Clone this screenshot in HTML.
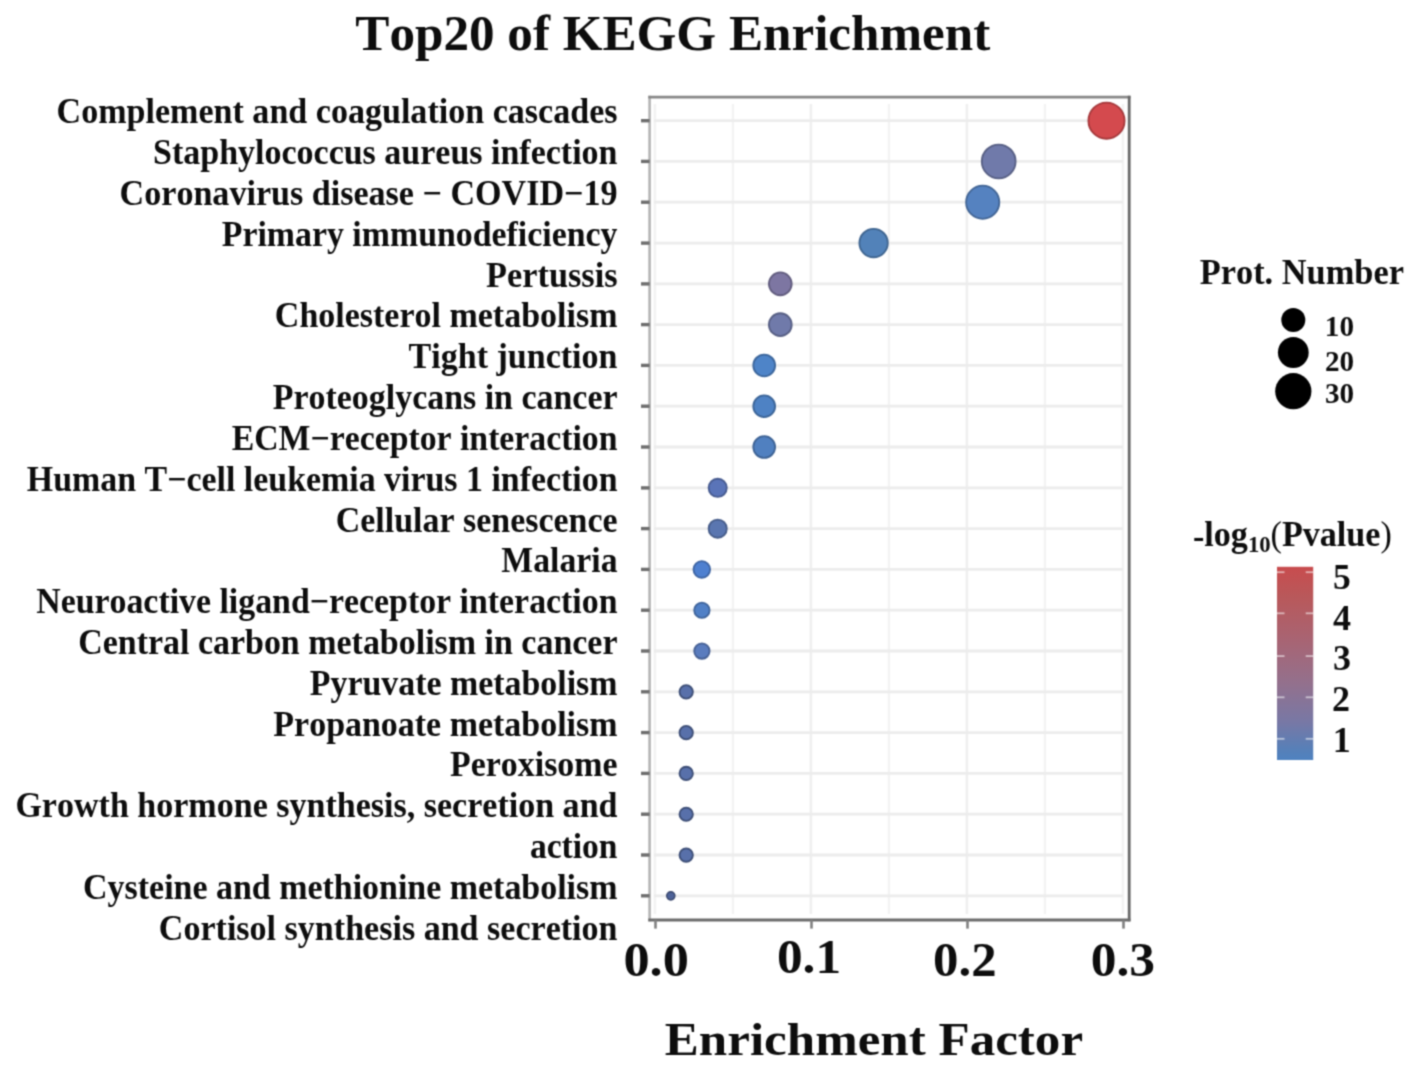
<!DOCTYPE html><html><head><meta charset="utf-8"><style>html,body{margin:0;padding:0;background:#fff;overflow:hidden;}svg{display:block;} text{font-kerning:none;}</style></head><body>
<svg width="1417" height="1073" viewBox="0 0 1417 1073">
<rect width="1417" height="1073" fill="#fff"/>
<defs><filter id="soft" x="0" y="0" width="1417" height="1073" filterUnits="userSpaceOnUse" color-interpolation-filters="sRGB"><feConvolveMatrix order="3" kernelMatrix="0.04387 0.12171 0.04387 0.12171 0.33767 0.12171 0.04387 0.12171 0.04387" edgeMode="duplicate"/></filter></defs>
<g filter="url(#soft)">
<rect width="1417" height="1073" fill="#fff"/>
<text transform="translate(617.50,123.20) scale(0.9462,1)" font-family="'Liberation Serif', serif" font-weight="bold" font-size="36" fill="#0d0d0d" text-anchor="end">Complement and coagulation cascades</text>
<text transform="translate(617.50,164.03) scale(0.9443,1)" font-family="'Liberation Serif', serif" font-weight="bold" font-size="36" fill="#0d0d0d" text-anchor="end">Staphylococcus aureus infection</text>
<text transform="translate(617.50,204.86) scale(0.9466,1)" font-family="'Liberation Serif', serif" font-weight="bold" font-size="36" fill="#0d0d0d" text-anchor="end">Coronavirus disease − COVID−19</text>
<text transform="translate(617.50,245.69) scale(0.9405,1)" font-family="'Liberation Serif', serif" font-weight="bold" font-size="36" fill="#0d0d0d" text-anchor="end">Primary immunodeficiency</text>
<text transform="translate(617.50,286.52) scale(0.9526,1)" font-family="'Liberation Serif', serif" font-weight="bold" font-size="36" fill="#0d0d0d" text-anchor="end">Pertussis</text>
<text transform="translate(617.50,327.35) scale(0.9446,1)" font-family="'Liberation Serif', serif" font-weight="bold" font-size="36" fill="#0d0d0d" text-anchor="end">Cholesterol metabolism</text>
<text transform="translate(617.50,368.18) scale(0.9455,1)" font-family="'Liberation Serif', serif" font-weight="bold" font-size="36" fill="#0d0d0d" text-anchor="end">Tight junction</text>
<text transform="translate(617.50,409.01) scale(0.9422,1)" font-family="'Liberation Serif', serif" font-weight="bold" font-size="36" fill="#0d0d0d" text-anchor="end">Proteoglycans in cancer</text>
<text transform="translate(617.50,449.84) scale(0.9384,1)" font-family="'Liberation Serif', serif" font-weight="bold" font-size="36" fill="#0d0d0d" text-anchor="end">ECM−receptor interaction</text>
<text transform="translate(617.50,490.67) scale(0.9415,1)" font-family="'Liberation Serif', serif" font-weight="bold" font-size="36" fill="#0d0d0d" text-anchor="end">Human T−cell leukemia virus 1 infection</text>
<text transform="translate(617.50,531.50) scale(0.9428,1)" font-family="'Liberation Serif', serif" font-weight="bold" font-size="36" fill="#0d0d0d" text-anchor="end">Cellular senescence</text>
<text transform="translate(617.50,572.33) scale(0.9374,1)" font-family="'Liberation Serif', serif" font-weight="bold" font-size="36" fill="#0d0d0d" text-anchor="end">Malaria</text>
<text transform="translate(617.50,613.16) scale(0.9400,1)" font-family="'Liberation Serif', serif" font-weight="bold" font-size="36" fill="#0d0d0d" text-anchor="end">Neuroactive ligand−receptor interaction</text>
<text transform="translate(617.50,653.99) scale(0.9433,1)" font-family="'Liberation Serif', serif" font-weight="bold" font-size="36" fill="#0d0d0d" text-anchor="end">Central carbon metabolism in cancer</text>
<text transform="translate(617.50,694.82) scale(0.9414,1)" font-family="'Liberation Serif', serif" font-weight="bold" font-size="36" fill="#0d0d0d" text-anchor="end">Pyruvate metabolism</text>
<text transform="translate(617.50,735.65) scale(0.9431,1)" font-family="'Liberation Serif', serif" font-weight="bold" font-size="36" fill="#0d0d0d" text-anchor="end">Propanoate metabolism</text>
<text transform="translate(617.50,776.48) scale(0.9412,1)" font-family="'Liberation Serif', serif" font-weight="bold" font-size="36" fill="#0d0d0d" text-anchor="end">Peroxisome</text>
<text transform="translate(617.50,817.31) scale(0.9458,1)" font-family="'Liberation Serif', serif" font-weight="bold" font-size="36" fill="#0d0d0d" text-anchor="end">Growth hormone synthesis, secretion and</text>
<text transform="translate(617.50,858.14) scale(0.9323,1)" font-family="'Liberation Serif', serif" font-weight="bold" font-size="36" fill="#0d0d0d" text-anchor="end">action</text>
<text transform="translate(617.50,898.97) scale(0.9430,1)" font-family="'Liberation Serif', serif" font-weight="bold" font-size="36" fill="#0d0d0d" text-anchor="end">Cysteine and methionine metabolism</text>
<text transform="translate(617.50,939.80) scale(0.9460,1)" font-family="'Liberation Serif', serif" font-weight="bold" font-size="36" fill="#0d0d0d" text-anchor="end">Cortisol synthesis and secretion</text>
<text transform="translate(355.30,49.80) scale(0.9991,1)" font-family="'Liberation Serif', serif" font-weight="bold" font-size="51.2" fill="#0d0d0d" text-anchor="start">Top20 of KEGG Enrichment</text>
<text transform="translate(623.42,975.80) scale(1.0911,1)" font-family="'Liberation Serif', serif" font-weight="bold" font-size="48" fill="#0d0d0d" text-anchor="start">0.0</text>
<text transform="translate(776.96,973.20) scale(1.0696,1)" font-family="'Liberation Serif', serif" font-weight="bold" font-size="48" fill="#0d0d0d" text-anchor="start">0.1</text>
<text transform="translate(933.08,975.90) scale(1.0589,1)" font-family="'Liberation Serif', serif" font-weight="bold" font-size="48" fill="#0d0d0d" text-anchor="start">0.2</text>
<text transform="translate(1090.65,975.60) scale(1.0732,1)" font-family="'Liberation Serif', serif" font-weight="bold" font-size="48" fill="#0d0d0d" text-anchor="start">0.3</text>
<text transform="translate(664.82,1054.70) scale(1.0752,1)" font-family="'Liberation Serif', serif" font-weight="bold" font-size="47.5" fill="#0d0d0d" text-anchor="start">Enrichment Factor</text>
<text transform="translate(1199.75,284.00) scale(0.9547,1)" font-family="'Liberation Serif', serif" font-weight="bold" font-size="36" fill="#0d0d0d" text-anchor="start">Prot. Number</text>
<text transform="translate(1324.85,335.90) scale(1.0240,1)" font-family="'Liberation Serif', serif" font-weight="bold" font-size="28.5" fill="#0d0d0d" text-anchor="start">10</text>
<text transform="translate(1324.88,370.70) scale(1.0231,1)" font-family="'Liberation Serif', serif" font-weight="bold" font-size="28.5" fill="#0d0d0d" text-anchor="start">20</text>
<text transform="translate(1324.88,403.20) scale(1.0231,1)" font-family="'Liberation Serif', serif" font-weight="bold" font-size="28.5" fill="#0d0d0d" text-anchor="start">30</text>
<text transform="translate(1333.01,589.40) scale(0.9875,1)" font-family="'Liberation Serif', serif" font-weight="bold" font-size="36" fill="#0d0d0d" text-anchor="start">5</text>
<text transform="translate(1333.00,629.80) scale(1.0000,1)" font-family="'Liberation Serif', serif" font-weight="bold" font-size="36" fill="#0d0d0d" text-anchor="start">4</text>
<text transform="translate(1333.00,670.30) scale(1.0000,1)" font-family="'Liberation Serif', serif" font-weight="bold" font-size="36" fill="#0d0d0d" text-anchor="start">3</text>
<text transform="translate(1332.00,710.70) scale(1.0000,1)" font-family="'Liberation Serif', serif" font-weight="bold" font-size="36" fill="#0d0d0d" text-anchor="start">2</text>
<text transform="translate(1332.80,751.60) scale(1.0000,1)" font-family="'Liberation Serif', serif" font-weight="bold" font-size="36" fill="#0d0d0d" text-anchor="start">1</text>
<line x1="732.9" y1="104" x2="732.9" y2="914" stroke="#f3f3f3" stroke-width="2.4"/>
<line x1="888.9" y1="104" x2="888.9" y2="914" stroke="#f3f3f3" stroke-width="2.4"/>
<line x1="1044.9" y1="104" x2="1044.9" y2="914" stroke="#f3f3f3" stroke-width="2.4"/>
<line x1="654.9" y1="104" x2="654.9" y2="914" stroke="#f3f3f3" stroke-width="2.6"/>
<line x1="810.9" y1="104" x2="810.9" y2="914" stroke="#efefef" stroke-width="2.6"/>
<line x1="966.9" y1="104" x2="966.9" y2="914" stroke="#efefef" stroke-width="2.6"/>
<line x1="1122.9" y1="104" x2="1122.9" y2="914" stroke="#f3f3f3" stroke-width="2.6"/>
<line x1="654" y1="120.7" x2="1123" y2="120.7" stroke="#ececec" stroke-width="2.8"/>
<line x1="654" y1="161.4" x2="1123" y2="161.4" stroke="#ececec" stroke-width="2.8"/>
<line x1="654" y1="202.2" x2="1123" y2="202.2" stroke="#ececec" stroke-width="2.8"/>
<line x1="654" y1="243.1" x2="1123" y2="243.1" stroke="#ececec" stroke-width="2.8"/>
<line x1="654" y1="283.9" x2="1123" y2="283.9" stroke="#ececec" stroke-width="2.8"/>
<line x1="654" y1="324.6" x2="1123" y2="324.6" stroke="#ececec" stroke-width="2.8"/>
<line x1="654" y1="365.4" x2="1123" y2="365.4" stroke="#ececec" stroke-width="2.8"/>
<line x1="654" y1="406.2" x2="1123" y2="406.2" stroke="#ececec" stroke-width="2.8"/>
<line x1="654" y1="447.0" x2="1123" y2="447.0" stroke="#ececec" stroke-width="2.8"/>
<line x1="654" y1="487.9" x2="1123" y2="487.9" stroke="#ececec" stroke-width="2.8"/>
<line x1="654" y1="528.6" x2="1123" y2="528.6" stroke="#ececec" stroke-width="2.8"/>
<line x1="654" y1="569.4" x2="1123" y2="569.4" stroke="#ececec" stroke-width="2.8"/>
<line x1="654" y1="610.2" x2="1123" y2="610.2" stroke="#ececec" stroke-width="2.8"/>
<line x1="654" y1="651.0" x2="1123" y2="651.0" stroke="#ececec" stroke-width="2.8"/>
<line x1="654" y1="691.8" x2="1123" y2="691.8" stroke="#ececec" stroke-width="2.8"/>
<line x1="654" y1="732.6" x2="1123" y2="732.6" stroke="#ececec" stroke-width="2.8"/>
<line x1="654" y1="773.4" x2="1123" y2="773.4" stroke="#ececec" stroke-width="2.8"/>
<line x1="654" y1="814.2" x2="1123" y2="814.2" stroke="#ececec" stroke-width="2.8"/>
<line x1="654" y1="855.0" x2="1123" y2="855.0" stroke="#ececec" stroke-width="2.8"/>
<line x1="654" y1="895.8" x2="1123" y2="895.8" stroke="#ececec" stroke-width="2.8"/>
<circle cx="1106.5" cy="120.65" r="18.10" fill="#d44a4e" stroke="#a5393c" stroke-width="1.8"/>
<circle cx="998.7" cy="161.45" r="16.90" fill="#707aaa" stroke="#575f84" stroke-width="1.8"/>
<circle cx="982.7" cy="202.25" r="16.60" fill="#5582c0" stroke="#426595" stroke-width="1.8"/>
<circle cx="873.6" cy="243.05" r="14.20" fill="#5282b9" stroke="#3f6590" stroke-width="1.8"/>
<circle cx="780.3" cy="283.85" r="11.40" fill="#7d76a2" stroke="#615c7e" stroke-width="1.8"/>
<circle cx="780.3" cy="324.65" r="11.40" fill="#707aaa" stroke="#575f84" stroke-width="1.8"/>
<circle cx="764.2" cy="365.45" r="10.90" fill="#4e84c8" stroke="#3c669c" stroke-width="1.8"/>
<circle cx="764.2" cy="406.25" r="10.90" fill="#4e82c4" stroke="#3c6598" stroke-width="1.8"/>
<circle cx="764.2" cy="447.04999999999995" r="10.90" fill="#5080c0" stroke="#3e6395" stroke-width="1.8"/>
<circle cx="717.7" cy="487.85" r="9.10" fill="#5a74b8" stroke="#465a8f" stroke-width="1.8"/>
<circle cx="717.7" cy="528.65" r="9.10" fill="#5a76b0" stroke="#465c89" stroke-width="1.8"/>
<circle cx="701.8" cy="569.4499999999999" r="8.30" fill="#4e80d0" stroke="#3c63a2" stroke-width="1.8"/>
<circle cx="701.9" cy="610.25" r="7.70" fill="#5080c6" stroke="#3e639a" stroke-width="1.8"/>
<circle cx="701.9" cy="651.05" r="7.70" fill="#5a7cbe" stroke="#466094" stroke-width="1.8"/>
<circle cx="686.2" cy="691.8499999999999" r="6.70" fill="#5870aa" stroke="#3d4e76" stroke-width="1.8"/>
<circle cx="686.2" cy="732.65" r="6.70" fill="#5870aa" stroke="#3d4e76" stroke-width="1.8"/>
<circle cx="686.2" cy="773.4499999999999" r="6.70" fill="#5870aa" stroke="#3d4e76" stroke-width="1.8"/>
<circle cx="686.2" cy="814.2499999999999" r="6.70" fill="#5870aa" stroke="#3d4e76" stroke-width="1.8"/>
<circle cx="686.2" cy="855.05" r="6.70" fill="#5870aa" stroke="#3d4e76" stroke-width="1.8"/>
<circle cx="670.8" cy="895.8499999999999" r="4.10" fill="#4e6298" stroke="#36446a" stroke-width="1.4"/>
<line x1="649.6" y1="95.8" x2="649.6" y2="921.3" stroke="#b4b4b4" stroke-width="2.6"/>
<line x1="648.3000000000001" y1="97.1" x2="1130.5" y2="97.1" stroke="#878787" stroke-width="2.8"/>
<line x1="1129.2" y1="95.8" x2="1129.2" y2="921.3" stroke="#686868" stroke-width="2.8"/>
<line x1="648.3000000000001" y1="920.0" x2="1130.5" y2="920.0" stroke="#6c6c6c" stroke-width="2.8"/>
<line x1="641" y1="120.7" x2="649.6" y2="120.7" stroke="#6e6e6e" stroke-width="3.4"/>
<line x1="641" y1="161.4" x2="649.6" y2="161.4" stroke="#6e6e6e" stroke-width="3.4"/>
<line x1="641" y1="202.2" x2="649.6" y2="202.2" stroke="#6e6e6e" stroke-width="3.4"/>
<line x1="641" y1="243.1" x2="649.6" y2="243.1" stroke="#6e6e6e" stroke-width="3.4"/>
<line x1="641" y1="283.9" x2="649.6" y2="283.9" stroke="#6e6e6e" stroke-width="3.4"/>
<line x1="641" y1="324.6" x2="649.6" y2="324.6" stroke="#6e6e6e" stroke-width="3.4"/>
<line x1="641" y1="365.4" x2="649.6" y2="365.4" stroke="#6e6e6e" stroke-width="3.4"/>
<line x1="641" y1="406.2" x2="649.6" y2="406.2" stroke="#6e6e6e" stroke-width="3.4"/>
<line x1="641" y1="447.0" x2="649.6" y2="447.0" stroke="#6e6e6e" stroke-width="3.4"/>
<line x1="641" y1="487.9" x2="649.6" y2="487.9" stroke="#6e6e6e" stroke-width="3.4"/>
<line x1="641" y1="528.6" x2="649.6" y2="528.6" stroke="#6e6e6e" stroke-width="3.4"/>
<line x1="641" y1="569.4" x2="649.6" y2="569.4" stroke="#6e6e6e" stroke-width="3.4"/>
<line x1="641" y1="610.2" x2="649.6" y2="610.2" stroke="#6e6e6e" stroke-width="3.4"/>
<line x1="641" y1="651.0" x2="649.6" y2="651.0" stroke="#6e6e6e" stroke-width="3.4"/>
<line x1="641" y1="691.8" x2="649.6" y2="691.8" stroke="#6e6e6e" stroke-width="3.4"/>
<line x1="641" y1="732.6" x2="649.6" y2="732.6" stroke="#6e6e6e" stroke-width="3.4"/>
<line x1="641" y1="773.4" x2="649.6" y2="773.4" stroke="#6e6e6e" stroke-width="3.4"/>
<line x1="641" y1="814.2" x2="649.6" y2="814.2" stroke="#6e6e6e" stroke-width="3.4"/>
<line x1="641" y1="855.0" x2="649.6" y2="855.0" stroke="#6e6e6e" stroke-width="3.4"/>
<line x1="641" y1="895.8" x2="649.6" y2="895.8" stroke="#6e6e6e" stroke-width="3.4"/>
<line x1="655.5" y1="920.0" x2="655.5" y2="928.6" stroke="#808080" stroke-width="2.6"/>
<line x1="811.5" y1="920.0" x2="811.5" y2="928.6" stroke="#808080" stroke-width="2.6"/>
<line x1="967.5" y1="920.0" x2="967.5" y2="928.6" stroke="#808080" stroke-width="2.6"/>
<line x1="1123.5" y1="920.0" x2="1123.5" y2="928.6" stroke="#808080" stroke-width="2.6"/>
<circle cx="1293.3" cy="320.0" r="12.0" fill="#000"/>
<circle cx="1293.3" cy="352.5" r="15.4" fill="#000"/>
<circle cx="1293.3" cy="391.2" r="18.1" fill="#000"/>
<text transform="translate(1192.96,545.9) scale(0.9475,1)" font-family="'Liberation Serif', serif" font-weight="bold" font-size="36" fill="#0d0d0d"><tspan dy="2.4">-</tspan><tspan dy="-2.4">log</tspan><tspan font-size="24" dy="5.7">10</tspan><tspan dy="-5.7" font-weight="normal">(</tspan>Pvalue<tspan font-weight="normal">)</tspan></text>
<defs><linearGradient id="cb" x1="0" y1="1" x2="0" y2="0"><stop offset="0" stop-color="#4f82c0"/><stop offset="0.047" stop-color="#5580b9"/><stop offset="0.197" stop-color="#7878a5"/><stop offset="0.404" stop-color="#94708c"/><stop offset="0.621" stop-color="#a86473"/><stop offset="0.849" stop-color="#b9585a"/><stop offset="1" stop-color="#c84c4e"/></linearGradient></defs>
<rect x="1277" y="566.8" width="36.2" height="193.2" fill="url(#cb)"/>
<line x1="1277" y1="572.2" x2="1284.5" y2="572.2" stroke="#fff" stroke-width="1.8" opacity="0.55"/>
<line x1="1305.7" y1="572.2" x2="1313.2" y2="572.2" stroke="#fff" stroke-width="1.8" opacity="0.55"/>
<line x1="1277" y1="613.3" x2="1284.5" y2="613.3" stroke="#fff" stroke-width="1.8" opacity="0.55"/>
<line x1="1305.7" y1="613.3" x2="1313.2" y2="613.3" stroke="#fff" stroke-width="1.8" opacity="0.55"/>
<line x1="1277" y1="656.1" x2="1284.5" y2="656.1" stroke="#fff" stroke-width="1.8" opacity="0.55"/>
<line x1="1305.7" y1="656.1" x2="1313.2" y2="656.1" stroke="#fff" stroke-width="1.8" opacity="0.55"/>
<line x1="1277" y1="697.3" x2="1284.5" y2="697.3" stroke="#fff" stroke-width="1.8" opacity="0.55"/>
<line x1="1305.7" y1="697.3" x2="1313.2" y2="697.3" stroke="#fff" stroke-width="1.8" opacity="0.55"/>
<line x1="1277" y1="738.8" x2="1284.5" y2="738.8" stroke="#fff" stroke-width="1.8" opacity="0.55"/>
<line x1="1305.7" y1="738.8" x2="1313.2" y2="738.8" stroke="#fff" stroke-width="1.8" opacity="0.55"/>
</g>
</svg></body></html>
